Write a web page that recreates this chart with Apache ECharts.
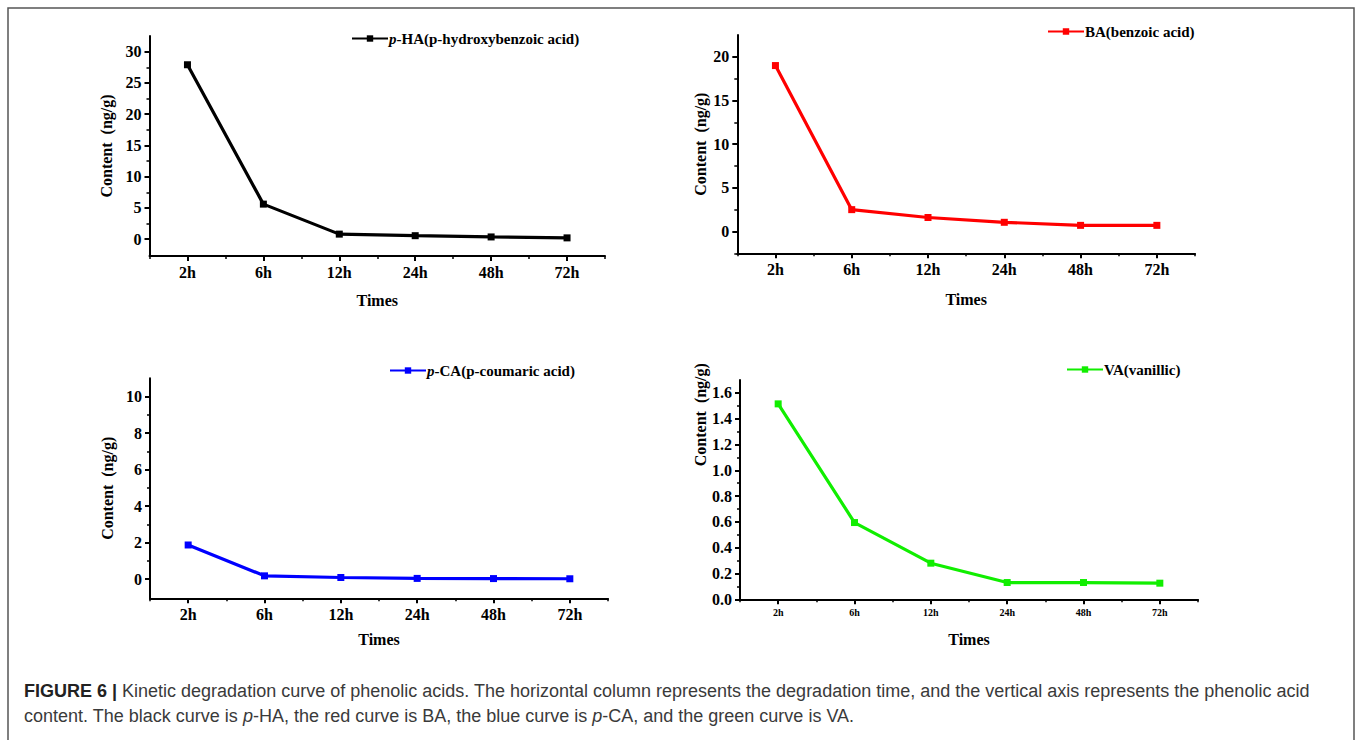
<!DOCTYPE html>
<html>
<head>
<meta charset="utf-8">
<script src="https://cdn.jsdelivr.net/npm/echarts@6/dist/echarts.min.js"></script>
<style>
html,body{margin:0;padding:0;background:#fff;}
#chart{width:1357px;height:740px;}
</style>
</head>
<body>
<div id="chart"></div>
<script>
// ---- data ----
const categories = ['2h', '6h', '12h', '24h', '48h', '72h'];
const pHA = [27.9, 5.6, 0.8, 0.55, 0.35, 0.2];
const BA = [19.0, 2.5, 1.6, 1.05, 0.7, 0.7];
const pCA = [1.87, 0.18, 0.09, 0.04, 0.03, 0.02];
const VA = [1.515, 0.595, 0.28, 0.13, 0.13, 0.125];

const yTicksHA = [0, 5, 10, 15, 20, 25, 30];
const yMinorHA = [2.5, 7.5, 12.5, 17.5, 22.5, 27.5];
const yTicksBA = [0, 5, 10, 15, 20];
const yMinorBA = [-2.5, 2.5, 7.5, 12.5, 17.5];
const yTicksCA = [0, 2, 4, 6, 8, 10];
const yMinorCA = [1, 3, 5, 7, 9];
const yTicksVA = [0, 0.2, 0.4, 0.6, 0.8, 1.0, 1.2, 1.4, 1.6];
const yMinorVA = [0.1, 0.3, 0.5, 0.7, 0.9, 1.1, 1.3, 1.5];

const seriesNames = ['p-HA(p-hydroxybenzoic acid)', 'BA(benzoic acid)', 'p-CA(p-coumaric acid)', 'VA(vanillic)'];
const legendLabels = ['{i|p}-HA(p-hydroxybenzoic acid)', 'BA(benzoic acid)', '{i|p}-CA(p-coumaric acid)', 'VA(vanillic)'];
const xTitle = 'Times';
const yTitle = 'Content\u2002(ng/g)';
const captionBold = 'FIGURE 6 |';
const captionLine1 = ' Kinetic degradation curve of phenolic acids. The horizontal column represents the degradation time, and the vertical axis represents the phenolic acid';
const captionLine2 = 'content. The black curve is {i|p}-HA, the red curve is BA, the blue curve is {i|p}-CA, and the green curve is VA.';

// ---- layout / style ----
const SERIF = '"Liberation Serif", "Times New Roman", serif';
const SANS = '"Liberation Sans", Arial, sans-serif';
const panels = [
  {data: pHA, color: '#000000', grid: {left: 149.5, top: 36, width: 455.5, height: 220},
   min: -2.7, max: 32.5, ticks: yTicksHA, minor: yMinorHA, dec: 0, nameGap: 35, namePad: 0,
   xFont: 16, legend: {left: 351, top: 31}, xNameGap: 36},
  {data: BA, color: '#ff0000', grid: {left: 737.3, top: 35, width: 457.7, height: 218.3},
   min: -2.5, max: 22.5, ticks: yTicksBA, minor: yMinorBA, dec: 0, nameGap: 29, namePad: 0,
   xFont: 16, legend: {left: 1047, top: 24}, xNameGap: 38},
  {data: pCA, color: '#0000ff', grid: {left: 150, top: 378.3, width: 458, height: 220},
   min: -1.05, max: 11, ticks: yTicksCA, minor: yMinorCA, dec: 0, nameGap: 35, namePad: 0,
   xFont: 16, legend: {left: 389, top: 363}, xNameGap: 33},
  {data: VA, color: '#11ee00', grid: {left: 740, top: 380, width: 458, height: 219.3},
   min: 0, max: 1.7, ticks: yTicksVA, minor: yMinorVA, dec: 1, nameGap: 27, namePad: 150,
   xFont: 10, legend: {left: 1066, top: 362}, xNameGap: 32}
];

const option = {
  animation: false,
  backgroundColor: '#ffffff',
  grid: [], xAxis: [], yAxis: [], series: [], legend: [],
  graphic: [
    {type: 'rect', shape: {x: 8, y: 8, width: 1346, height: 740},
     style: {fill: 'none', stroke: '#555555', lineWidth: 1.5}, silent: true},
    {type: 'text', left: 24, top: 682,
     style: {text: '{b|' + captionBold + '}' + captionLine1,
       font: '18px ' + SANS, fill: '#3a3a3a',
       rich: {b: {fontWeight: 'bold', fontSize: 18, fontFamily: SANS, fill: '#222'}}}},
    {type: 'text', left: 24, top: 707,
     style: {text: captionLine2,
       font: '18px ' + SANS, fill: '#3a3a3a',
       rich: {i: {fontStyle: 'italic', fontSize: 18, fontFamily: SANS, fill: '#3a3a3a'}}}}
  ]
};

panels.forEach((p, i) => {
  option.grid.push(Object.assign({containLabel: false}, p.grid));
  // main category axis
  option.xAxis.push({
    type: 'category', gridIndex: i, position: 'bottom', data: categories, boundaryGap: true,
    name: xTitle, nameLocation: 'middle', nameGap: p.xNameGap,
    nameTextStyle: {fontFamily: SERIF, fontWeight: 'bold', fontSize: 16, color: '#000'},
    axisLine: {show: true, onZero: false, lineStyle: {color: '#000', width: 2}},
    axisTick: {show: true, alignWithLabel: true, length: 5, lineStyle: {color: '#000', width: 2}},
    axisLabel: {show: true, margin: 8, fontFamily: SERIF, fontWeight: 'bold', fontSize: p.xFont, color: '#000'},
    splitLine: {show: false}
  });
  // minor ticks at category boundaries
  option.xAxis.push({
    type: 'category', gridIndex: i, position: 'bottom', offset: 0, data: categories, boundaryGap: true,
    axisLine: {show: false, onZero: false},
    axisTick: {show: true, alignWithLabel: false, interval: 0, length: 3, lineStyle: {color: '#000', width: 1.5}},
    axisLabel: {show: false}, splitLine: {show: false}
  });
  option.yAxis.push({
    type: 'value', gridIndex: i, position: 'left', min: p.min, max: p.max,
    name: yTitle, nameLocation: 'middle', nameGap: p.nameGap, nameRotate: 90,
    nameTextStyle: {fontFamily: SERIF, fontWeight: 'bold', fontSize: 16, color: '#000',
      padding: [0, 0, 0, p.namePad]},
    axisLine: {show: true, onZero: false, lineStyle: {color: '#000', width: 2}},
    axisTick: {show: true, length: 5, customValues: p.ticks, lineStyle: {color: '#000', width: 2}},
    axisLabel: {show: true, margin: 8, customValues: p.ticks, fontFamily: SERIF, fontWeight: 'bold',
      fontSize: 16, color: '#000', formatter: v => Number(v).toFixed(p.dec)},
    splitLine: {show: false}
  });
  option.yAxis.push({
    type: 'value', gridIndex: i, position: 'left', offset: 0, min: p.min, max: p.max,
    axisLine: {show: false, onZero: false},
    axisTick: {show: true, length: 3, customValues: p.minor, lineStyle: {color: '#000', width: 1.5}},
    axisLabel: {show: false}, splitLine: {show: false}
  });
  option.series.push({
    type: 'line', name: seriesNames[i], xAxisIndex: 2 * i, yAxisIndex: 2 * i,
    data: p.data, symbol: 'rect', symbolSize: 7, showSymbol: true,
    lineStyle: {color: p.color, width: 3.2}, itemStyle: {color: p.color}
  });
  option.legend.push({
    data: [seriesNames[i]], left: p.legend.left, top: p.legend.top,
    itemWidth: 36, itemHeight: 8, itemGap: 0, padding: 0,
    formatter: () => legendLabels[i],
    textStyle: {fontFamily: SERIF, fontWeight: 'bold', fontSize: 15, color: '#000', padding: [0, 0, 0, -4],
      rich: {i: {fontFamily: SERIF, fontWeight: 'bold', fontStyle: 'italic', fontSize: 15, color: '#000'}}}
  });
});

const chart = echarts.init(document.getElementById('chart'), null, {renderer: 'svg'});
chart.setOption(option);
</script>
</body>
</html>
